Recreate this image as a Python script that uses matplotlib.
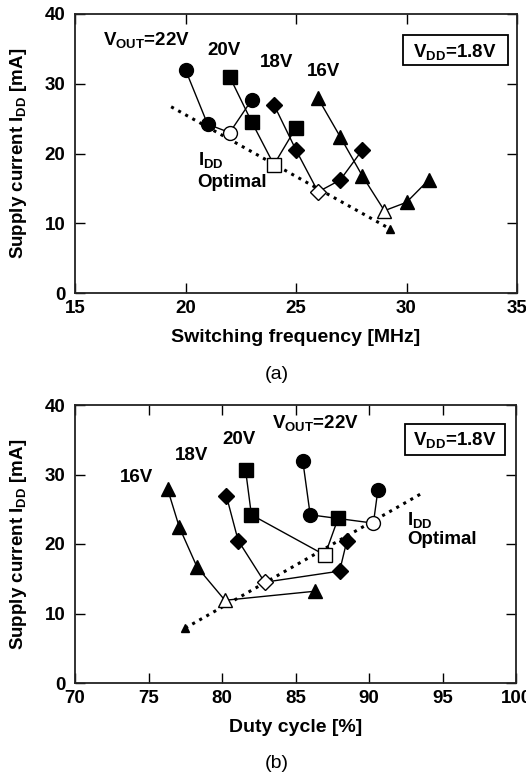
import matplotlib
matplotlib.use("Agg")
import matplotlib.pyplot as plt
from matplotlib.patches import Rectangle

plt.rcParams['font.family'] = ['Liberation Sans', 'DejaVu Sans']
plt.rcParams['font.weight'] = 'bold'
plt.rcParams['mathtext.fontset'] = 'custom'
plt.rcParams['mathtext.rm'] = 'Liberation Sans:bold'
plt.rcParams['mathtext.bf'] = 'Liberation Sans:bold'
plt.rcParams['mathtext.it'] = 'Liberation Sans:bold'
plt.rcParams['mathtext.default'] = 'bf'

# ---- data: panel (a) switching frequency ----
f22 = [20, 21, 22, 23]
i22 = [32.0, 24.2, 23.0, 27.7]
f20 = [22, 23, 24, 25]
i20 = [31.0, 24.5, 18.4, 23.7]
f18 = [24, 25, 26, 27, 28]
i18 = [27.0, 20.5, 14.5, 16.2, 20.5]
f16 = [26, 27, 28, 29, 30, 31]
i16 = [27.9, 22.4, 16.8, 11.8, 13.0, 16.2]
opt_idx = {'22': 2, '20': 2, '18': 2, '16': 3}
opt_line_f = [19.35, 29.25]
opt_line_i = [26.7, 9.2]

# ---- data: panel (b) duty cycle ----
d22 = [85.5, 86.0, 90.3, 90.6]
j22 = [31.9, 24.2, 23.0, 27.7]
d20 = [81.6, 82.0, 87.0, 87.9]
j20 = [30.7, 24.2, 18.4, 23.7]
d18 = [80.3, 81.1, 82.9, 88.0, 88.5]
j18 = [26.9, 20.5, 14.5, 16.1, 20.5]
d16 = [76.3, 77.1, 78.3, 80.2, 86.3]
j16 = [27.9, 22.4, 16.7, 11.9, 13.2]
opt_line_d = [77.5, 93.6]
opt_line_j = [7.9, 27.3]

series_a = [(f22, i22, 'o', 10, '22'), (f20, i20, 's', 9.5, '20'),
            (f18, i18, 'D', 8, '18'), (f16, i16, '^', 10.5, '16')]
series_b = [(d22, j22, 'o', 10, '22'), (d20, j20, 's', 9.5, '20'),
            (d18, j18, 'D', 8, '18'), (d16, j16, '^', 10.5, '16')]

FS = 13.5

fig = plt.figure(figsize=(5.26, 7.75), dpi=100)
ax1 = fig.add_axes([75/526, 1-293/775, 442/526, 279/775])
ax2 = fig.add_axes([75/526, 1-683/775, 441/526, 278/775])


def draw(ax, series, lx, ly):
    for x, y, m, ms, key in series:
        ax.plot(x, y, '-', color='black', lw=1.0, zorder=2)
        k = opt_idx[key]
        xs = [v for n, v in enumerate(x) if n != k]
        ys = [v for n, v in enumerate(y) if n != k]
        ax.plot(xs, ys, linestyle='none', marker=m, ms=ms, mfc='black',
                mec='black', zorder=3)
        ax.plot([x[k]], [y[k]], linestyle='none', marker=m, ms=ms, mfc='white',
                mec='black', mew=1.0, zorder=4)
    ax.plot(lx, ly, ':', color='black', lw=2.2, zorder=1)


draw(ax1, series_a, opt_line_f, opt_line_i)
ax1.plot([opt_line_f[1]], [opt_line_i[1]], '^', color='black', ms=6, zorder=3)
draw(ax2, series_b, opt_line_d, opt_line_j)
ax2.plot([opt_line_d[0]], [opt_line_j[0]], '^', color='black', ms=6, zorder=3)

for ax in (ax1, ax2):
    ax.set_ylim(0, 40)
    ax.set_yticks([0, 10, 20, 30, 40])
    ax.tick_params(direction='in', length=7, width=1.0, top=True, right=True,
                   labelsize=13.5, pad=5)
    ax.tick_params(axis='y', pad=7)
    for s in ax.spines.values():
        s.set_linewidth(1.3)
        s.set_color('#222222')
    for lab in ax.get_xticklabels() + ax.get_yticklabels():
        lab.set_fontweight('bold')
    ax.set_ylabel('Supply current I$_{DD}$ [mA]', fontsize=13.5,
                  fontweight='bold')
    ax.yaxis.set_label_coords(-0.104, 0.5)

ax1.set_xlim(15, 35)
ax1.set_xticks([15, 20, 25, 30, 35])
ax1.set_xlabel('Switching frequency [MHz]', fontsize=14, fontweight='bold',
               labelpad=9)
ax2.set_xlim(70, 100)
ax2.set_xticks([70, 75, 80, 85, 90, 95, 100])
ax2.set_xlabel('Duty cycle [%]', fontsize=14, fontweight='bold', labelpad=9)

tk = dict(fontsize=FS, fontweight='bold', va='center', ha='left')
ax1.text(16.27, 36.3, 'V$_{OUT}$=22V', **tk)
ax1.text(21.0, 34.8, '20V', **tk)
ax1.text(23.35, 33.0, '18V', **tk)
ax1.text(25.5, 31.7, '16V', **tk)
ax1.text(20.55, 19.1, 'I$_{DD}$', **tk)
ax1.text(20.55, 15.9, 'Optimal', **tk)
ax1.add_patch(Rectangle((0.742, 0.817), 0.2376, 0.1075, transform=ax1.transAxes,
                        fc='white', ec='black', lw=1.3, zorder=5))
ax1.text(32.2, 34.6, 'V$_{DD}$=1.8V', fontsize=FS, fontweight='bold',
         va='center', ha='center', zorder=6)

ax2.text(83.4, 37.4, 'V$_{OUT}$=22V', **tk)
ax2.text(80.05, 35.0, '20V', **tk)
ax2.text(76.8, 32.8, '18V', **tk)
ax2.text(73.05, 29.5, '16V', **tk)
ax2.text(92.6, 23.5, 'I$_{DD}$', **tk)
ax2.text(92.6, 20.6, 'Optimal', **tk)
ax2.add_patch(Rectangle((0.748, 0.820), 0.227, 0.1115, transform=ax2.transAxes,
                        fc='white', ec='black', lw=1.3, zorder=5))
ax2.text(95.85, 34.9, 'V$_{DD}$=1.8V', fontsize=FS, fontweight='bold',
         va='center', ha='center', zorder=6)

fig.text(277/526, 1-374/775, '(a)', fontsize=14, fontweight='normal',
         ha='center', va='center')
fig.text(277/526, 1-763/775, '(b)', fontsize=14, fontweight='normal',
         ha='center', va='center')

fig.savefig('out.png', dpi=100)
